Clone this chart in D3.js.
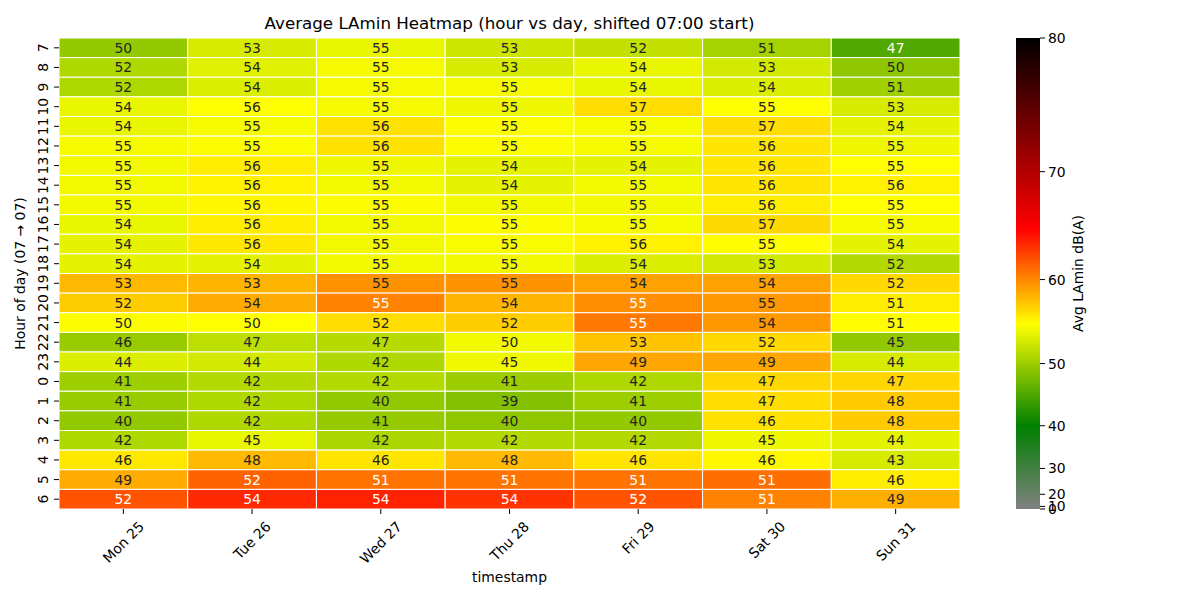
<!DOCTYPE html>
<html>
<head>
<meta charset="utf-8">
<script src="https://cdn.jsdelivr.net/npm/d3@7"></script>
<style>
  body { margin: 0; background: #fff; }
  text { font-family: "DejaVu Sans", sans-serif; fill: #000; }
</style>
</head>
<body>
<svg id="mainsvg" width="1200" height="600"></svg>
<script>
// days on x, hours on y (shifted to start at 07)
var days = ["Mon 25", "Tue 26", "Wed 27", "Thu 28", "Fri 29", "Sat 30", "Sun 31"];
var hours = [7, 8, 9, 10, 11, 12, 13, 14, 15, 16, 17, 18, 19, 20, 21, 22, 23, 0, 1, 2, 3, 4, 5, 6];

// printed numbers in each cell
var annotRows = [
  [50, 53, 55, 53, 52, 51, 47],
  [52, 54, 55, 53, 54, 53, 50],
  [52, 54, 55, 55, 54, 54, 51],
  [54, 56, 55, 55, 57, 55, 53],
  [54, 55, 56, 55, 55, 57, 54],
  [55, 55, 56, 55, 55, 56, 55],
  [55, 56, 55, 54, 54, 56, 55],
  [55, 56, 55, 54, 55, 56, 56],
  [55, 56, 55, 55, 55, 56, 55],
  [54, 56, 55, 55, 55, 57, 55],
  [54, 56, 55, 55, 56, 55, 54],
  [54, 54, 55, 55, 54, 53, 52],
  [53, 53, 55, 55, 54, 54, 52],
  [52, 54, 55, 54, 55, 55, 51],
  [50, 50, 52, 52, 55, 54, 51],
  [46, 47, 47, 50, 53, 52, 45],
  [44, 44, 42, 45, 49, 49, 44],
  [41, 42, 42, 41, 42, 47, 47],
  [41, 42, 40, 39, 41, 47, 48],
  [40, 42, 41, 40, 40, 46, 48],
  [42, 45, 42, 42, 42, 45, 44],
  [46, 48, 46, 48, 46, 46, 43],
  [49, 52, 51, 51, 51, 51, 46],
  [52, 54, 54, 54, 52, 51, 49]
];

// values behind the cell colours (read from the shading)
var colorRows = [
  [49.5, 53.0, 54.0, 52.5, 52.0, 50.5, 45.5],
  [51.0, 53.5, 54.5, 53.0, 54.0, 52.8, 49.2],
  [51.0, 53.3, 54.5, 54.5, 54.0, 53.3, 50.2],
  [54.0, 55.0, 54.5, 54.2, 56.5, 55.0, 53.0],
  [54.0, 54.6, 56.3, 54.8, 54.6, 56.5, 53.8],
  [54.6, 54.8, 56.3, 54.8, 54.6, 56.1, 54.2],
  [54.4, 55.8, 54.2, 53.8, 53.8, 56.1, 55.0],
  [54.4, 55.6, 54.4, 53.8, 54.4, 56.1, 55.6],
  [54.4, 55.4, 54.8, 54.4, 54.4, 55.8, 55.0],
  [54.0, 55.8, 54.4, 54.8, 54.6, 56.6, 54.6],
  [53.8, 56.0, 54.4, 54.7, 55.6, 55.1, 53.8],
  [53.8, 53.8, 54.4, 54.4, 53.3, 52.8, 51.2],
  [58.0, 58.2, 59.6, 59.6, 59.0, 59.0, 56.7],
  [57.2, 58.6, 60.2, 58.2, 59.8, 59.4, 55.8],
  [54.8, 55.0, 56.5, 57.2, 60.6, 59.4, 55.1],
  [49.8, 51.7, 51.4, 54.4, 57.6, 56.7, 49.4],
  [53.3, 52.8, 51.0, 54.3, 58.8, 58.8, 53.0],
  [50.0, 51.2, 51.2, 49.9, 51.0, 56.7, 56.8],
  [49.8, 51.0, 49.4, 48.6, 50.0, 56.5, 57.3],
  [49.4, 51.0, 49.6, 49.2, 49.4, 56.3, 57.3],
  [51.0, 54.0, 50.9, 51.2, 51.2, 54.2, 53.8],
  [56.0, 58.0, 56.1, 58.0, 56.1, 55.4, 53.0],
  [58.6, 61.4, 60.8, 60.8, 60.8, 61.0, 55.8],
  [62.0, 63.6, 63.8, 63.2, 62.0, 60.2, 58.4]
];

// colorbar
var cbTicks = [0, 10, 20, 30, 40, 50, 60, 70, 80];
var cmapStops = [0, 40, 55, 65, 80];
var cmapColors = ["#808080", "#008000", "#ffff00", "#ff0000", "#000000"];

var svg = d3.select("#mainsvg");
var plotL = 59, plotR = 960, plotT = 38, plotB = 509;

var norm = d3.scalePow().exponent(2.5).domain([0, 80]).range([0, 1]).clamp(true);
var cmap = d3.scaleLinear()
  .domain(cmapStops.map(function (d) { return norm(d); }))
  .range(cmapColors)
  .interpolate(d3.interpolateRgb);
function colorOf(v) { return cmap(norm(v)); }

function lum(c) {
  var rgb = d3.rgb(c);
  var f = function (x) {
    x = x / 255;
    return x <= 0.03928 ? x / 12.92 : Math.pow((x + 0.055) / 1.055, 2.4);
  };
  return 0.2126 * f(rgb.r) + 0.7152 * f(rgb.g) + 0.0722 * f(rgb.b);
}

var x = d3.scaleBand().domain(days).range([plotL, plotR]);
var y = d3.scaleBand().domain(hours.map(String)).range([plotT, plotB]);

var cells = [];
hours.forEach(function (h, i) {
  days.forEach(function (d, j) {
    cells.push({ hour: String(h), day: d, label: annotRows[i][j], val: colorRows[i][j] });
  });
});

var g = svg.append("g");
g.selectAll("rect")
  .data(cells)
  .enter()
  .append("rect")
  .attr("x", function (d) { return x(d.day); })
  .attr("y", function (d) { return y(d.hour); })
  .attr("width", x.bandwidth())
  .attr("height", y.bandwidth())
  .attr("fill", function (d) { return colorOf(d.val); })
  .attr("stroke", "#fff")
  .attr("stroke-width", 1);

g.selectAll("text.annot")
  .data(cells)
  .enter()
  .append("text")
  .attr("class", "annot")
  .attr("x", function (d) { return x(d.day) + x.bandwidth() / 2; })
  .attr("y", function (d) { return y(d.hour) + y.bandwidth() / 2; })
  .attr("text-anchor", "middle")
  .attr("dominant-baseline", "central")
  .style("font-size", "13.9px")
  .style("fill", function (d) { return lum(colorOf(d.val)) < 0.408 ? "#fff" : "#262626"; })
  .text(function (d) { return d.label; });

// x axis
var xg = svg.append("g");
days.forEach(function (d) {
  var cx = x(d) + x.bandwidth() / 2;
  xg.append("line").attr("x1", cx).attr("x2", cx).attr("y1", plotB).attr("y2", plotB + 5)
    .attr("stroke", "#000").attr("stroke-width", 1);
  var t = xg.append("text")
    .attr("text-anchor", "middle")
    .attr("dominant-baseline", "central")
    .style("font-size", "13.9px")
    .text(d);
  var w = t.node().getComputedTextLength();
  var half = (w + 14) / Math.SQRT2 / 2;
  var cy = plotB + 5 + 5 + half;
  t.attr("transform", "translate(" + cx + "," + cy + ") rotate(-45)");
});
svg.append("text")
  .attr("x", (plotL + plotR) / 2).attr("y", 577)
  .attr("text-anchor", "middle").attr("dominant-baseline", "central")
  .style("font-size", "13.9px")
  .text("timestamp");

// y axis
var yg = svg.append("g");
hours.forEach(function (h) {
  var cy = y(String(h)) + y.bandwidth() / 2;
  yg.append("line").attr("x1", plotL - 5).attr("x2", plotL).attr("y1", cy).attr("y2", cy)
    .attr("stroke", "#000").attr("stroke-width", 1);
  yg.append("text")
    .attr("text-anchor", "middle")
    .attr("dominant-baseline", "central")
    .attr("transform", "translate(43," + cy + ") rotate(-90)")
    .style("font-size", "13.9px")
    .text(h);
});
svg.append("text")
  .attr("transform", "translate(20," + (plotT + plotB) / 2 + ") rotate(-90)")
  .attr("text-anchor", "middle").attr("dominant-baseline", "central")
  .style("font-size", "13.9px")
  .text("Hour of day (07 \u2192 07)");

// title
svg.append("text")
  .attr("x", (plotL + plotR) / 2).attr("y", 23)
  .attr("text-anchor", "middle").attr("dominant-baseline", "central")
  .style("font-size", "16.7px")
  .text("Average LAmin Heatmap (hour vs day, shifted 07:00 start)");

// colorbar
var cbX = 1016, cbW = 24;
var cbScale = d3.scalePow().exponent(2.5).domain([0, 80]).range([plotB, plotT]);
var defs = svg.append("defs");
var grad = defs.append("linearGradient").attr("id", "cbgrad")
  .attr("x1", 0).attr("y1", 1).attr("x2", 0).attr("y2", 0);
cmapStops.forEach(function (s, i) {
  grad.append("stop").attr("offset", norm(s)).attr("stop-color", cmapColors[i]);
});
svg.append("rect")
  .attr("x", cbX).attr("y", plotT).attr("width", cbW).attr("height", plotB - plotT)
  .attr("fill", "url(#cbgrad)");
var cbg = svg.append("g");
cbTicks.forEach(function (t) {
  var ty = cbScale(t);
  cbg.append("line").attr("x1", cbX + cbW).attr("x2", cbX + cbW + 5).attr("y1", ty).attr("y2", ty)
    .attr("stroke", "#000").attr("stroke-width", 1);
  cbg.append("text")
    .attr("x", cbX + cbW + 8).attr("y", ty)
    .attr("dominant-baseline", "central")
    .style("font-size", "13.9px")
    .text(t);
});
svg.append("text")
  .attr("transform", "translate(1078," + (plotT + plotB) / 2 + ") rotate(-90)")
  .attr("text-anchor", "middle").attr("dominant-baseline", "central")
  .style("font-size", "13.9px")
  .text("Avg LAmin dB(A)");
</script>
</body>
</html>
